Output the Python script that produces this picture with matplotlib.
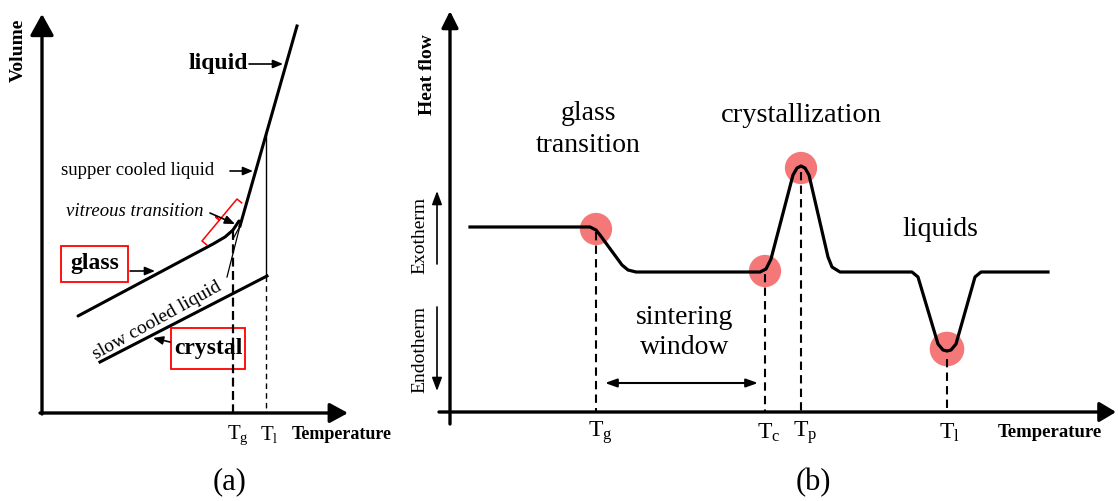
import matplotlib
matplotlib.use('Agg')
import matplotlib.pyplot as plt
from matplotlib.patches import Rectangle

plt.rcParams['font.family'] = 'Liberation Serif'
plt.rcParams['mathtext.fontset'] = 'custom'
plt.rcParams['mathtext.rm'] = 'Liberation Serif'
plt.rcParams['mathtext.it'] = 'Liberation Serif:italic'
plt.rcParams['mathtext.bf'] = 'Liberation Serif:bold'

# ---- panel (a): volume vs temperature (units = pixels from the axis origin)
liquid_x = [255, 198]
liquid_y = [387, 187]
supercooled_tail_x = [198, 185]
supercooled_tail_y = [187, 136]
glass_x = [36, 171, 183, 191, 197]
glass_y = [97, 169, 176, 183, 192]
glass_tail_x = [199, 191]
glass_tail_y = [189, 174]
crystal_x = [58, 225]
crystal_y = [51, 137]
tg_a = 191
tg_a_top = 182
tl_a = 224
tl_a_top = 279
tl_a_split = 137
bracket_x = [164.6, 160, 177.5, 173.6, 177.5, 195, 199.6]
bracket_y = [168.2, 172, 193, 196.2, 193, 214, 210.2]

# ---- panel (b): DSC heat flow vs temperature (units = pixels from the axis origin)
dsc_x = [20, 140, 146, 150, 172, 178, 186, 310, 316, 321, 343, 347, 351, 355, 359,
         378, 382, 390, 462, 468, 488, 493, 497, 501, 506, 525, 531, 598]
dsc_y = [185, 185, 182, 177, 147, 142, 140, 140, 143, 153, 237, 244, 246, 244, 237,
         155, 145, 140, 140, 135, 68, 62, 61, 62, 68, 135, 140, 140]
event_labels = [r'T$_{\mathrm{g}}$', r'T$_{\mathrm{c}}$', r'T$_{\mathrm{p}}$', r'T$_{\mathrm{l}}$']
event_x = [146, 315, 351, 497]
event_y = [183, 141, 244, 63]
event_dash_top = [180, 138, 240, 53]


def arrow(ax, start, end, lw=1.2, hl=0.6, hw=0.25, style='-|>'):
    ax.annotate('', xy=end, xytext=start,
                arrowprops=dict(arrowstyle=f'{style},head_length={hl},head_width={hw}',
                                lw=lw, color='k', shrinkA=0, shrinkB=0, mutation_scale=10))


def draw_panel_a(ax):
    ax.set_xlim(-42, 358)
    ax.set_ylim(-88, 414)
    ax.axis('off')

    # axes
    arrow(ax, (0, -1), (0, 399), lw=2.4, hl=1.3, hw=0.72)
    arrow(ax, (-2, 0), (306, 0), lw=2.4, hl=1.1, hw=0.6)

    # curves
    ax.plot(liquid_x, liquid_y, color='k', lw=2.2)
    ax.plot(supercooled_tail_x, supercooled_tail_y, color='k', lw=0.9)
    ax.plot(glass_x, glass_y, color='k', lw=2.2, solid_capstyle='round')
    ax.plot(glass_tail_x, glass_tail_y, color='k', lw=0.9)
    ax.plot(crystal_x, crystal_y, color='k', lw=2.2)

    # Tg and Tl markers
    ax.plot([tg_a, tg_a], [tg_a_top, 0], color='k', lw=1.6, linestyle=(0, (4, 2)))
    ax.plot([tl_a, tl_a], [tl_a_top, tl_a_split], color='k', lw=1.0)
    ax.plot([tl_a, tl_a], [tl_a_split, 0], color='k', lw=1.0, linestyle=(0, (4, 3)))
    ax.plot(bracket_x, bracket_y, color='red', lw=1.1)

    # labels
    ax.text(-24, 364, 'Volume', rotation=90, ha='center', va='center',
            fontsize=14, fontweight='bold')
    ax.text(176, 351, 'liquid', ha='center', va='center', fontsize=17, fontweight='bold')
    arrow(ax, (207, 349), (241, 349))
    ax.text(96, 243, 'supper cooled liquid', ha='center', va='center', fontsize=13.5)
    arrow(ax, (188, 242), (211, 242))
    ax.text(93, 202, 'vitreous transition', ha='center', va='center', fontsize=13.5,
            style='italic')
    arrow(ax, (168, 200), (193, 189))

    ax.add_patch(Rectangle((19, 131), 67, 36, fill=False, edgecolor='red', lw=1.3))
    ax.text(53, 150, 'glass', ha='center', va='center', fontsize=17, fontweight='bold')
    arrow(ax, (88, 142), (113, 142))

    ax.text(115, 93, 'slow cooled liquid', ha='center', va='center', fontsize=14,
            rotation=29, rotation_mode='anchor')
    ax.add_patch(Rectangle((129, 44), 74, 41, fill=False, edgecolor='red', lw=1.3))
    ax.text(166, 65, 'crystal', ha='center', va='center', fontsize=17, fontweight='bold')
    arrow(ax, (128, 71), (111, 75))

    ax.text(tg_a - 6, -21, r'T$_{\mathrm{g}}$', ha='left', va='center', fontsize=15)
    ax.text(tl_a - 6, -21, r'T$_{\mathrm{l}}$', ha='left', va='center', fontsize=15)
    ax.text(300, -21, 'Temperature', ha='center', va='center', fontsize=13,
            fontweight='bold')
    ax.text(188, -68, '(a)', ha='center', va='center', fontsize=22)


def draw_panel_b(ax):
    ax.set_xlim(-50, 668)
    ax.set_ylim(-89, 413)
    ax.axis('off')

    # axes
    arrow(ax, (0, -12), (0, 401), lw=2.4, hl=1.0, hw=0.5)
    arrow(ax, (-11, 0), (666, 0), lw=2.4, hl=1.0, hw=0.6)

    # heat flow curve and highlighted events
    ax.scatter(event_x, event_y, s=[540, 540, 540, 620], color='#f47878',
               edgecolors='none', zorder=1)
    ax.plot(dsc_x, dsc_y, color='k', lw=2.3, solid_joinstyle='round', zorder=2)
    for x, top, lab in zip(event_x, event_dash_top, event_labels):
        ax.plot([x, x], [top, 0], color='k', lw=1.5, linestyle=(0, (4, 2.5)), zorder=2)
        ax.text(x - 8, -20, lab, ha='left', va='center', fontsize=17)

    # labels
    ax.text(-23, 338, 'Heat flow', rotation=90, ha='center', va='center',
            fontsize=14, fontweight='bold')
    ax.text(-30, 178, 'Exotherm', rotation=90, ha='center', va='center', fontsize=14)
    arrow(ax, (-13, 148), (-13, 221), lw=1.2, hl=0.8, hw=0.3)
    ax.text(-30, 63, 'Endotherm', rotation=90, ha='center', va='center', fontsize=14)
    arrow(ax, (-13, 105), (-13, 21), lw=1.2, hl=0.8, hw=0.3)

    ax.text(138, 300, 'glass', ha='center', va='center', fontsize=20)
    ax.text(138, 268, 'transition', ha='center', va='center', fontsize=20)
    ax.text(351, 298, 'crystallization', ha='center', va='center', fontsize=20.5)
    ax.text(490, 183, 'liquids', ha='center', va='center', fontsize=20)
    ax.text(235, 95, 'sintering', ha='center', va='center', fontsize=20)
    ax.text(235, 65, 'window', ha='center', va='center', fontsize=20)
    arrow(ax, (155, 29), (308, 29), lw=1.5, hl=0.7, hw=0.25, style='<|-|>')

    ax.text(600, -20, 'Temperature', ha='center', va='center', fontsize=13.5,
            fontweight='bold')
    ax.text(363, -70, '(b)', ha='center', va='center', fontsize=22)


def main():
    fig = plt.figure(figsize=(11.18, 5.02), dpi=100)
    ax_a = fig.add_axes([0, 0, 400 / 1118, 1])
    ax_b = fig.add_axes([400 / 1118, 0, 718 / 1118, 1])
    draw_panel_a(ax_a)
    draw_panel_b(ax_b)
    fig.savefig('out.png', dpi=100)


main()
